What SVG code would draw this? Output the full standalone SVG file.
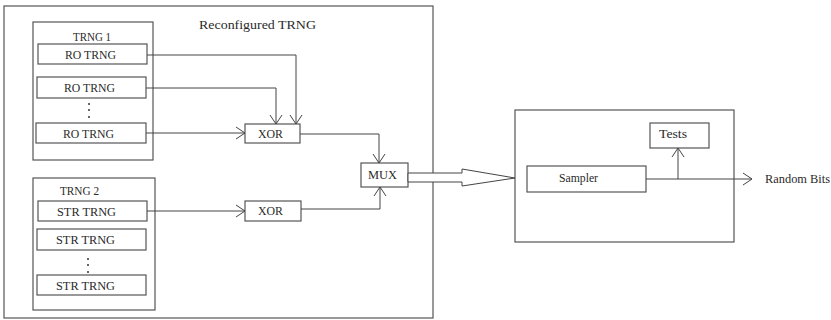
<svg xmlns="http://www.w3.org/2000/svg" width="831" height="320" viewBox="0 0 831 320">
<defs>
<style>
.box{fill:#fff;stroke:#555;stroke-width:1.2}
.ln{fill:none;stroke:#444;stroke-width:1}
.t{font-family:"Liberation Serif","Times New Roman",serif;font-size:12px;fill:#2a2a2a;dominant-baseline:central}
</style>
<marker id="ah" markerWidth="12" markerHeight="14" refX="10" refY="7" orient="auto" markerUnits="userSpaceOnUse">
<path d="M1,1 L10,7 L1,13" fill="none" stroke="#444" stroke-width="1"/>
</marker>
</defs>
<rect width="831" height="320" fill="#fff"/>
<g id="reconfigured">
<rect class="box" x="4" y="6" width="429" height="312"/>
<text class="t" x="199" y="25" font-size="13" textLength="117" lengthAdjust="spacingAndGlyphs">Reconfigured TRNG</text>
</g>
<g id="trng1">
<rect class="box" x="33" y="22" width="120" height="138"/>
<text class="t" x="73" y="37" textLength="38" lengthAdjust="spacingAndGlyphs">TRNG 1</text>
</g>
<g id="ro1"><rect class="box" x="38" y="44" width="109" height="20"/><text class="t" x="65" y="55" textLength="51" lengthAdjust="spacingAndGlyphs">RO TRNG</text></g>
<g id="ro2"><rect class="box" x="37" y="77" width="109" height="21"/><text class="t" x="64" y="88" textLength="51" lengthAdjust="spacingAndGlyphs">RO TRNG</text></g>
<g id="dots1" fill="#333"><circle cx="89" cy="104" r="1"/><circle cx="89" cy="110" r="1"/><circle cx="89" cy="117" r="1"/></g>
<g id="ro3"><rect class="box" x="36" y="123" width="110" height="20"/><text class="t" x="63" y="134" textLength="51" lengthAdjust="spacingAndGlyphs">RO TRNG</text></g>
<g id="trng2">
<rect class="box" x="33" y="178" width="122" height="132"/>
<text class="t" x="60" y="191" textLength="39" lengthAdjust="spacingAndGlyphs">TRNG 2</text>
</g>
<g id="str1"><rect class="box" x="38" y="201" width="109" height="20"/><text class="t" x="57" y="212" textLength="59" lengthAdjust="spacingAndGlyphs">STR  TRNG</text></g>
<g id="str2"><rect class="box" x="37" y="229" width="109" height="21"/><text class="t" x="56" y="240" textLength="59" lengthAdjust="spacingAndGlyphs">STR  TRNG</text></g>
<g id="dots2" fill="#333"><circle cx="88" cy="259" r="1"/><circle cx="88" cy="265" r="1"/><circle cx="88" cy="272" r="1"/></g>
<g id="str3"><rect class="box" x="37" y="275" width="109" height="20"/><text class="t" x="56" y="286" textLength="59" lengthAdjust="spacingAndGlyphs">STR  TRNG</text></g>
<g id="xor1"><rect class="box" x="245" y="124" width="55" height="19"/><text class="t" x="258" y="134" textLength="25" lengthAdjust="spacingAndGlyphs">XOR</text></g>
<g id="xor2"><rect class="box" x="245" y="201" width="56" height="20"/><text class="t" x="258" y="211" textLength="25" lengthAdjust="spacingAndGlyphs">XOR</text></g>
<g id="mux"><rect class="box" x="361" y="163" width="47" height="24"/><text class="t" x="368" y="175" textLength="29" lengthAdjust="spacingAndGlyphs">MUX</text></g>
<g id="block">
<rect class="box" x="515" y="110" width="219" height="132"/>
</g>
<g id="tests"><rect class="box" x="650" y="123" width="59" height="25"/><text class="t" x="659" y="134" textLength="28" lengthAdjust="spacingAndGlyphs">Tests</text></g>
<g id="sampler"><rect class="box" x="527" y="166" width="119" height="26"/><text class="t" x="559" y="178" textLength="39" lengthAdjust="spacingAndGlyphs">Sampler</text></g>
<g id="output-label"><text class="t" x="765" y="179" textLength="65" lengthAdjust="spacingAndGlyphs">Random Bits</text></g>
<g id="connectors">
<path class="ln" d="M147,55 H296 V124" marker-end="url(#ah)"/>
<path class="ln" d="M146,88 H276 V124" marker-end="url(#ah)"/>
<path class="ln" d="M146,133 H245" marker-end="url(#ah)"/>
<path class="ln" d="M147,211 H245" marker-end="url(#ah)"/>
<path class="ln" d="M300,134 H379 V163" marker-end="url(#ah)"/>
<path class="ln" d="M301,209 H380 V187" marker-end="url(#ah)"/>
<path d="M408,173 H462 V169 L515,178 L462,186 V182 H408 Z" fill="#fff" stroke="#444" stroke-width="1"/>
<path class="ln" d="M646,179 H752" marker-end="url(#ah)"/>
<path class="ln" d="M678,179 V148" marker-end="url(#ah)"/>
</g>
</svg>
